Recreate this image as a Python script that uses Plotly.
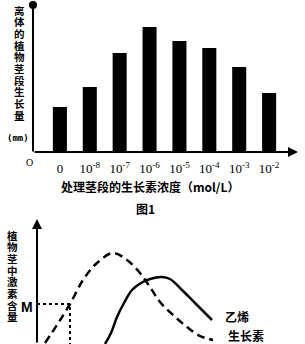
import plotly.graph_objects as go

W, H = 305, 344

# ---- Figure 1 data ----
conc_labels = ["0", "10<sup>-8</sup>", "10<sup>-7</sup>", "10<sup>-6</sup>", "10<sup>-5</sup>",
               "10<sup>-4</sup>", "10<sup>-3</sup>", "10<sup>-2</sup>"]
growth = [4.5, 6.5, 9.9, 12.5, 11.1, 10.4, 8.5, 5.9]

# ---- Figure 2 data ----
auxin_x = [0.8, 2.0, 3.3, 4.6, 6.0, 7.6, 9.0, 10.3, 11.3, 12.3, 13.6, 15.0, 16.3, 17.6]
auxin_y = [0.1, 1.9, 4.0, 6.4, 8.1, 9.1, 8.4, 7.1, 5.7, 4.2, 2.9, 1.7, 0.8, 0.4]
eth_x = [6.8, 7.4, 8.0, 8.7, 9.5, 10.4, 11.3, 12.5, 13.3, 14.3, 15.8, 17.5]
eth_y = [0.0, 1.1, 2.7, 4.1, 5.4, 6.1, 6.5, 6.7, 6.5, 5.6, 4.1, 2.4]
M_x, M_y = 3.3, 4.0

def px(x):
    return x / W

def py(y):
    return 1 - y / H

fig = go.Figure()
cats = list(range(len(growth)))
fig.add_trace(go.Bar(x=cats, y=growth, width=0.47, marker=dict(color="black", line=dict(width=0)),
                     xaxis="x", yaxis="y", showlegend=False))

fig.add_trace(go.Scatter(x=auxin_x, y=auxin_y, mode="lines", line=dict(color="black", width=2.5, dash="8px,5px", shape="spline"),
                         xaxis="x2", yaxis="y2", showlegend=False))
fig.add_trace(go.Scatter(x=eth_x, y=eth_y, mode="lines", line=dict(color="black", width=2.5, shape="spline"),
                         xaxis="x2", yaxis="y2", showlegend=False))
fig.add_trace(go.Scatter(x=[0, M_x, M_x], y=[M_y, M_y, 0], mode="lines", line=dict(color="black", width=2, dash="dot"),
                         xaxis="x2", yaxis="y2", showlegend=False))

serif = "Liberation Serif"
cjk = "Noto Sans CJK SC"

fig.update_layout(
    width=W, height=H, margin=dict(l=0, r=0, t=0, b=0),
    paper_bgcolor="white", plot_bgcolor="white",
    xaxis=dict(domain=[px(33), px(296)], range=[-0.9, 7.9], tickmode="array", tickvals=cats, ticktext=conc_labels,
               showgrid=False, zeroline=False, showline=False, ticks="", ticklabelstandoff=7,
               tickfont=dict(family=serif, size=13, color="black"), anchor="y"),
    yaxis=dict(domain=[py(152), py(5)], range=[0, 14.7], showgrid=False, zeroline=False, showline=False,
               showticklabels=False, ticks="", anchor="x"),
    xaxis2=dict(domain=[px(37), px(297)], range=[0, 26], showgrid=False, zeroline=False, showline=False,
                showticklabels=False, ticks="", anchor="y2"),
    yaxis2=dict(domain=[0, py(220)], range=[0, 12.4], showgrid=False, zeroline=False, showline=False,
                showticklabels=False, ticks="", anchor="x2"),
)

anns = []
# axis arrows
anns.append(dict(x=px(298), y=py(152), ax=-265, ay=0, xref="paper", yref="paper", axref="pixel", ayref="pixel",
                 showarrow=True, arrowhead=2, arrowsize=1, arrowwidth=2, arrowcolor="black", text=""))
anns.append(dict(x=px(33), y=py(5), ax=0, ay=148, xref="paper", yref="paper", axref="pixel", ayref="pixel",
                 showarrow=True, arrowhead=6, arrowsize=1, arrowwidth=2, arrowcolor="black", text=""))
anns.append(dict(x=px(37), y=py(219), ax=0, ay=130, xref="paper", yref="paper", axref="pixel", ayref="pixel",
                 showarrow=True, arrowhead=2, arrowsize=1, arrowwidth=2, arrowcolor="black", text=""))

def txt(x, y, t, size=12, family=cjk, bold=True):
    anns.append(dict(x=px(x), y=py(y), xref="paper", yref="paper", text=("<b>%s</b>" % t) if bold else t,
                     showarrow=False, xanchor="center", yanchor="middle",
                     font=dict(family=family, size=size, color="black")))

ylab1 = "离体的植物茎段生长量"
for i, ch in enumerate(ylab1):
    txt(19, 10 + i * 11.7, ch, size=10.5)
txt(18, 138, "(mm)", size=9, family="DejaVu Sans Mono")
txt(29, 163, "O", size=10, family=serif, bold=False)
txt(150, 186, "处理茎段的生长素浓度（mol/L）", size=12)
txt(145, 208, "图1", size=12)

ylab2 = "植物茎中激素含量"
for i, ch in enumerate(ylab2):
    txt(12, 235 + i * 11.7, ch, size=10.5)
txt(27, 307, "M", size=14, family="Liberation Sans")
txt(237, 316, "乙烯", size=12)
txt(246, 335, "生长素", size=12)

fig.update_layout(annotations=anns)
fig.write_html("out.html")
